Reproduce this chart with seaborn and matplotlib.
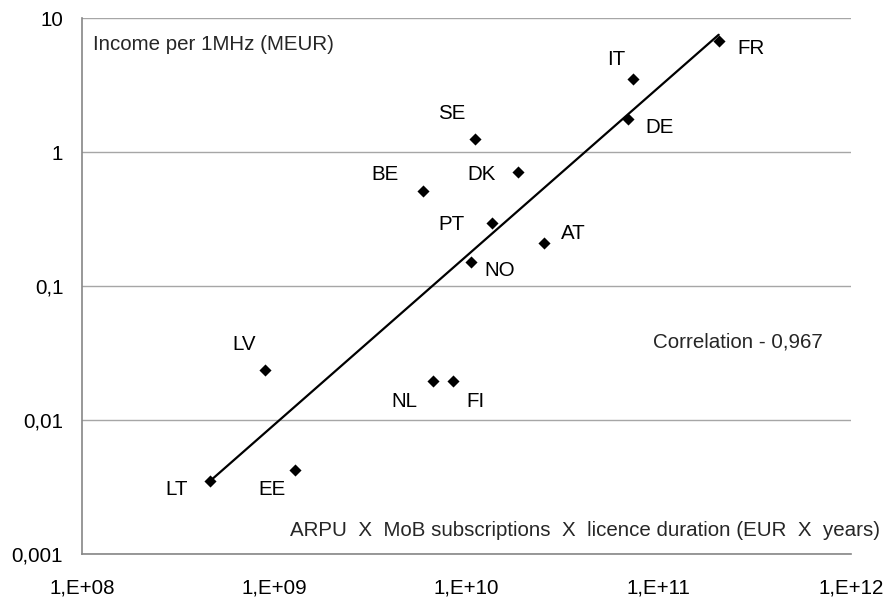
import matplotlib
matplotlib.use("Agg")
import matplotlib.pyplot as plt
import numpy as np
import pandas as pd
import seaborn as sns

# data
countries = ["LT", "EE", "LV", "NL", "FI", "SE", "BE", "DK", "PT", "AT", "NO", "IT", "DE", "FR"]
revenue_base = [4.63e8, 1.28e9, 9.0e8, 6.67e9, 8.47e9, 1.11e10, 5.97e9, 1.86e10,
                1.35e10, 2.54e10, 1.05e10, 7.31e10, 6.93e10, 2.05e11]
income_per_mhz = [0.0035, 0.0042, 0.0236, 0.0196, 0.0196, 1.25, 0.514, 0.71,
                  0.297, 0.208, 0.151, 3.53, 1.75, 6.68]

# trend line end values
trend_y = [0.0035, 7.5]

x_ticks = [1e8, 1e9, 1e10, 1e11, 1e12]
x_tick_labels = ["1,E+08", "1,E+09", "1,E+10", "1,E+11", "1,E+12"]
y_ticks = [0.001, 0.01, 0.1, 1, 10]
y_tick_labels = ["0,001", "0,01", "0,1", "1", "10"]

# label offsets in pixels (dx, dy) relative to the point, dy up
label_offsets = {
    "LT": (-33, -14), "EE": (-23, -25), "LV": (-21, 20), "NL": (-28, -26),
    "FI": (23, -26), "SE": (-23, 20), "BE": (-38, 11), "DK": (-37, -8),
    "PT": (-40, -7), "AT": (29, 4), "NO": (29, -14), "IT": (-16, 14),
    "DE": (31, -14), "FR": (32, -13),
}

df = pd.DataFrame({"country": countries, "x": revenue_base, "y": income_per_mhz})

sns.set_style("white")
plt.rcParams["font.family"] = ["Liberation Sans", "DejaVu Sans"]
fs = 14.8

fig = plt.figure(figsize=(8.85, 5.97), dpi=100)
ax = fig.add_axes([82 / 885, 43 / 597, 769 / 885, 536 / 597])

ax.set_xscale("log")
ax.set_yscale("log")

trend_x = [df["x"].min(), df["x"].max()]
ax.plot(trend_x, trend_y, color="black", lw=1.6, zorder=2)

sns.scatterplot(data=df, x="x", y="y", marker="D", color="black", s=38,
                linewidth=0, ax=ax, zorder=3)

for _, row in df.iterrows():
    dx, dy = label_offsets[row["country"]]
    ax.annotate(row["country"], (row["x"], row["y"]), xytext=(dx, dy),
                textcoords="offset pixels", ha="center", va="baseline",
                fontsize=fs, color="black")

ax.set_xlim(1e8, 1e12)
ax.set_ylim(1e-3, 10)
ax.set_xticks(x_ticks, x_tick_labels)
ax.set_yticks(y_ticks, y_tick_labels)
ax.minorticks_off()
ax.grid(axis="y", color="#a6a6a6", lw=1.0)
ax.set_axisbelow(True)
ax.tick_params(axis="both", direction="out", length=4.5, width=1, color="#868686",
               labelsize=fs, labelcolor="black")
ax.tick_params(axis="y", pad=9)
ax.tick_params(axis="x", pad=13)
for side in ["top", "right"]:
    ax.spines[side].set_visible(False)
for side in ["left", "bottom"]:
    ax.spines[side].set_color("#868686")
    ax.spines[side].set_linewidth(1.2)
ax.set_xlabel("")
ax.set_ylabel("")

fig.text(93 / 885, 1 - 50 / 597, "Income per 1MHz (MEUR)", fontsize=fs,
         ha="left", va="baseline")
fig.text(653 / 885, 1 - 347 / 597, "Correlation - 0,967", fontsize=fs,
         ha="left", va="baseline")
fig.text(880 / 885, 1 - 536 / 597,
         "ARPU  X  MoB subscriptions  X  licence duration (EUR  X  years)",
         fontsize=fs, ha="right", va="baseline")

fig.savefig("out.png", dpi=100, facecolor="white")
